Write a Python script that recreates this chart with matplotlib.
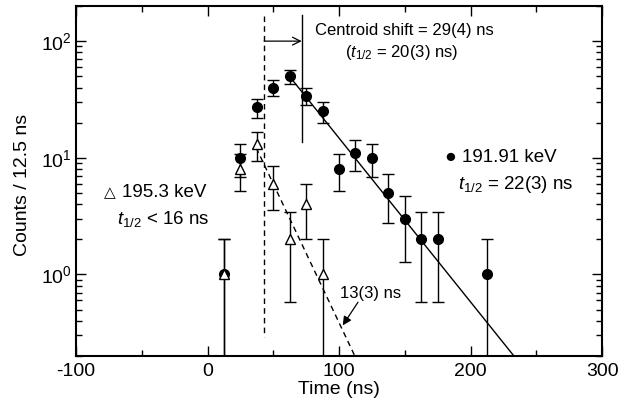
import numpy as np
import matplotlib
matplotlib.use('Agg')
import matplotlib.pyplot as plt
from matplotlib.ticker import MultipleLocator, LogLocator, NullFormatter

# 字体设置：Arial 风格
plt.rcParams['font.family'] = ['Liberation Sans', 'DejaVu Sans']
plt.rcParams['mathtext.fontset'] = 'custom'
plt.rcParams['mathtext.rm'] = 'Liberation Sans'
plt.rcParams['mathtext.it'] = 'Liberation Sans:italic'
plt.rcParams['axes.unicode_minus'] = False

# 191.91 keV (实心圆)
t_191 = [12.5, 25, 37.5, 50, 62.5, 75, 87.5, 100, 112.5, 125, 137.5, 150, 162.5, 175, 212.5]
n_191 = [1, 10, 27, 40, 50, 34, 25, 8, 11, 10, 5, 3, 2, 2, 1]

# 195.3 keV (空心三角)
t_195 = [12.5, 25, 37.5, 50, 62.5, 75, 87.5]
n_195 = [1, 8, 13, 6, 2, 4, 1]

# 拟合直线 (端点读自原图)
fit_191_t = [64.3, 233]
fit_191_y = [46.8, 0.2]
fit_195_t = [37, 112]
fit_195_y = [12.2, 0.2]

# 质心位置
t_prompt = 43
t_delayed = 71.6


def main():
    fig = plt.figure(figsize=(6.32, 4.09), dpi=100)
    ax = fig.add_axes([0.1203, 0.1296, 0.8323, 0.8557])

    n1 = np.array(n_191, dtype=float)
    n2 = np.array(n_195, dtype=float)

    ax.errorbar(t_191, n1, yerr=np.sqrt(n1), fmt='o', color='black', ms=7,
                capsize=4.5, elinewidth=1.0, capthick=1.0, zorder=3)
    ax.errorbar(t_195, n2, yerr=np.sqrt(n2), fmt='^', mfc='white', mec='black',
                color='black', ms=7, mew=1.0, capsize=4.5, elinewidth=1.0,
                capthick=1.0, zorder=4)

    ax.plot(fit_191_t, fit_191_y, '-', color='black', lw=1.0, zorder=2)
    ax.plot(fit_195_t, fit_195_y, '--', color='black', lw=1.0,
            dashes=(4, 3), zorder=2)

    # 质心竖线与箭头
    ax.plot([t_prompt, t_prompt], [163, 0.289], '--', color='black', lw=1.0,
            dashes=(4, 3))
    ax.plot([t_delayed, t_delayed], [166, 13.7], '-', color='black', lw=1.0)
    ax.annotate('', xy=(t_delayed, 100), xytext=(t_prompt, 100),
                arrowprops=dict(arrowstyle='->', lw=0.9, color='black',
                                shrinkA=0, shrinkB=0, mutation_scale=14))

    ax.text(81.7, 124, 'Centroid shift = 29(4) ns', fontsize=12, va='center')
    ax.text(104.6, 80, '($t_{1/2}$ = 20(3) ns)', fontsize=12, va='center')

    ax.text(184.3, 10, '\u25cf', fontsize=14, ha='center', va='center')
    ax.text(193.5, 10, '191.91 keV', fontsize=13.5, va='center')
    ax.text(190.5, 5.86, '$t_{1/2}$ = 22(3) ns', fontsize=13.5, va='center')

    ax.text(-74.4, 5.0, '\u25b3', fontsize=11, ha='center', va='center')
    ax.text(-65, 5.0, '195.3 keV', fontsize=13.5, va='center')
    ax.text(-68.8, 3.0, '$t_{1/2}$ < 16 ns', fontsize=13.5, va='center')

    ax.text(100.8, 0.69, '13(3) ns', fontsize=12, va='center')
    ax.annotate('', xy=(102.8, 0.366), xytext=(114.4, 0.578),
                arrowprops=dict(arrowstyle='-|>', lw=0.9, color='black',
                                shrinkA=0, shrinkB=0, mutation_scale=13))

    ax.set_yscale('log')
    ax.set_xlim(-100, 300)
    ax.set_ylim(0.2, 200)

    ax.xaxis.set_major_locator(MultipleLocator(100))
    ax.xaxis.set_minor_locator(MultipleLocator(50))
    ax.yaxis.set_major_locator(LogLocator(base=10))
    ax.yaxis.set_minor_locator(LogLocator(base=10, subs=np.arange(2, 10)))
    ax.yaxis.set_minor_formatter(NullFormatter())

    ax.tick_params(which='both', direction='in', top=True, right=True,
                   labelsize=14, width=1.0)
    ax.tick_params(which='major', length=7)
    ax.tick_params(which='minor', length=4)
    ax.tick_params(axis='x', which='major', pad=5)
    ax.tick_params(axis='y', which='major', pad=3)
    for sp in ax.spines.values():
        sp.set_linewidth(1.5)

    ax.set_xlabel('Time (ns)', fontsize=14, labelpad=1)
    ax.set_ylabel('Counts / 12.5 ns', fontsize=14)
    ax.yaxis.set_label_coords(-0.085, 0.49)

    fig.savefig('out.png', dpi=100)


if __name__ == '__main__':
    main()
